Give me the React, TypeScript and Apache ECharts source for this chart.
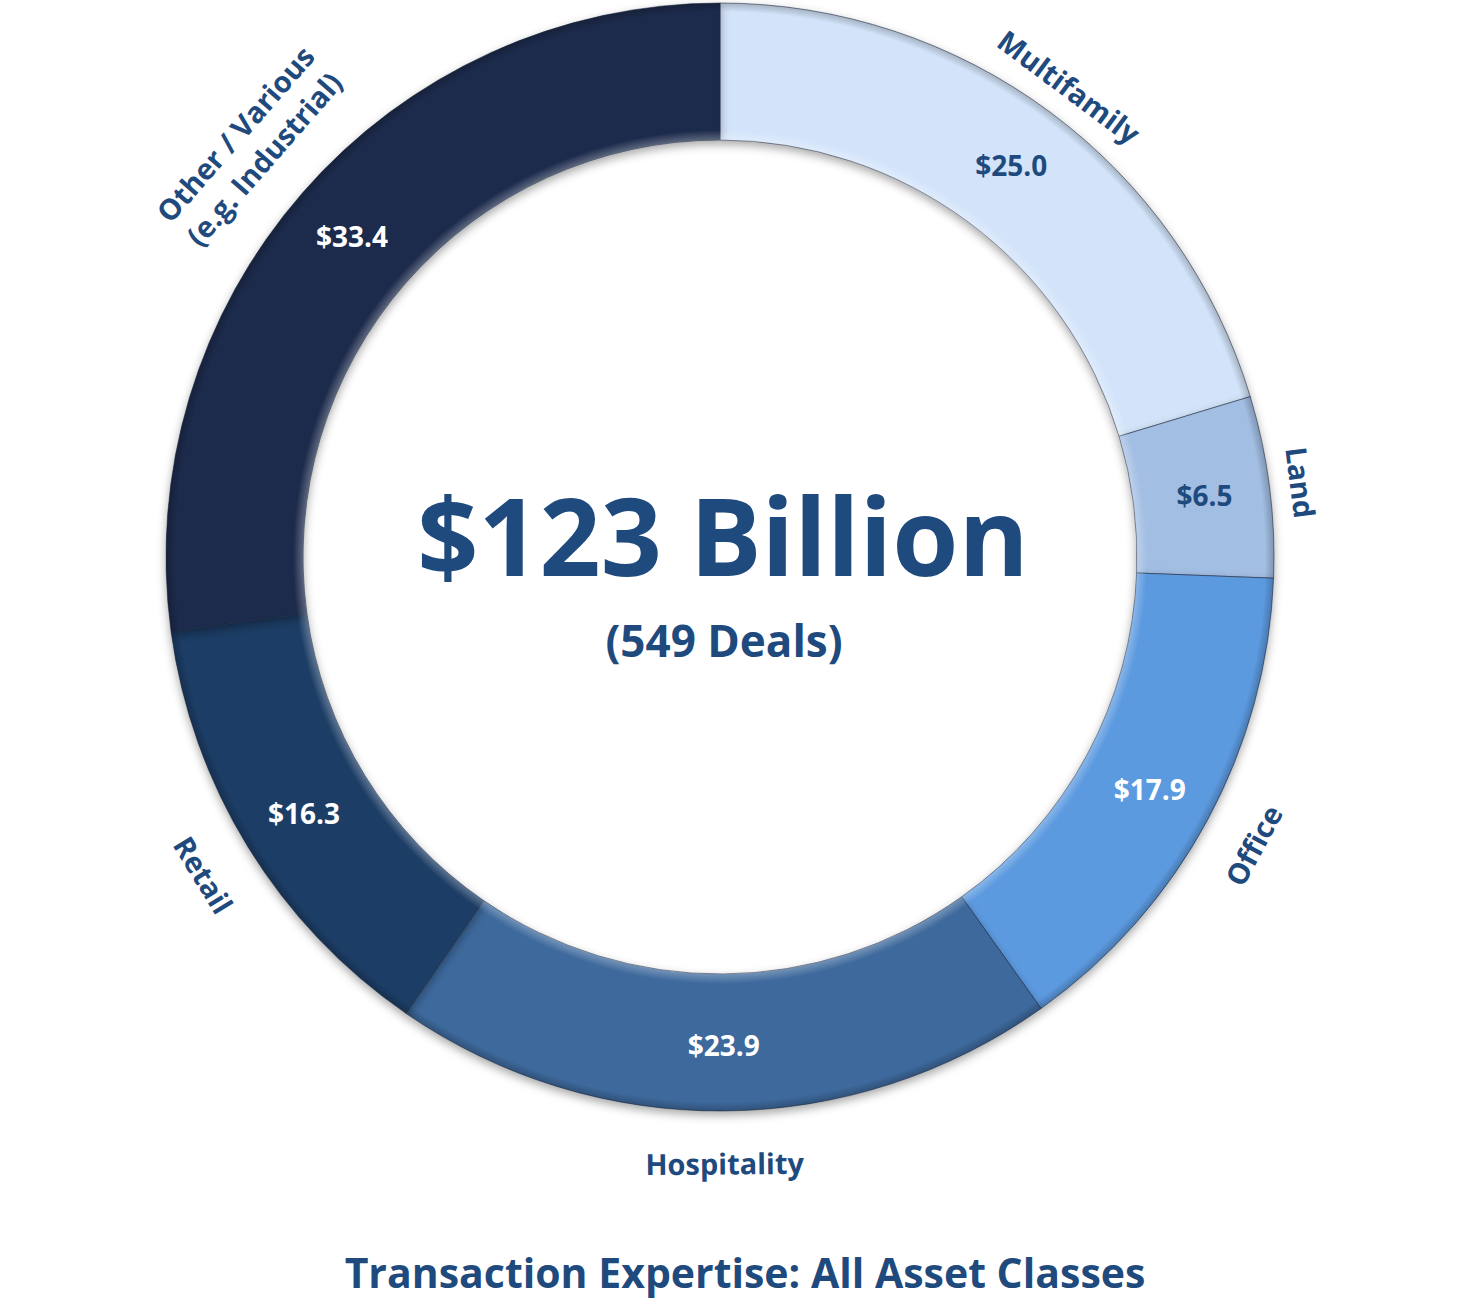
import React, { useEffect, useRef } from "react";
import * as echarts from "echarts";

const categories = [
  "Multifamily",
  "Land",
  "Office",
  "Hospitality",
  "Retail",
  "Other / Various\n(e.g. Industrial)",
];
const values = [25.0, 6.5, 17.9, 23.9, 16.3, 33.4];
const colors = ["#D3E4FA", "#A2BEE3", "#5C9AE0", "#3E699C", "#1F3C65", "#1A2C4B"];
const valueLabelColors = ["#1F4A7D", "#1F4A7D", "#FFFFFF", "#FFFFFF", "#FFFFFF", "#FFFFFF"];
const centerTitle = "$123 Billion";
const centerSubtitle = "(549 Deals)";
const chartTitle = "Transaction Expertise: All Asset Classes";

// which outer label ring each category name sits on
const nameRing = [0, 0, 1, 1, 1, 2];

const TEXT_BLUE = "#1F4A7D";
const FONT = "'Open Sans', 'Noto Sans', sans-serif";

export default function App() {
  const ref = useRef<HTMLDivElement>(null);

  useEffect(() => {
    if (!ref.current) return;
    const chart = echarts.init(ref.current, undefined, { renderer: "svg" });
    const center = [720, 557];
    const R0 = 417;
    const R1 = 554;

    const ringData = categories.map((name, i) => ({
      name,
      value: values[i],
      itemStyle: { color: colors[i] },
      label: { color: valueLabelColors[i] },
    }));

    const nameSeries = (ringIdx: number, radius: number[]) => ({
      type: "pie",
      center,
      radius,
      startAngle: 90,
      clockwise: true,
      silent: true,
      emphasis: { disabled: true },
      itemStyle: { color: "rgba(0,0,0,0)" },
      label: {
        position: "inside",
        rotate: "tangential",
        fontFamily: FONT,
        fontWeight: "bold",
        fontSize: 29,
        lineHeight: 38,
        align: "center",
        color: TEXT_BLUE,
        formatter: (p: any) => p.name,
      },
      labelLine: { show: false },
      data: categories.map((name, i) => ({
        name,
        value: values[i],
        label: { show: nameRing[i] === ringIdx },
      })),
    });

    const bevel = {
      type: "radial",
      x: center[0],
      y: center[1],
      r: R1,
      global: true,
      colorStops: [
        { offset: 0, color: "rgba(255,255,255,0)" },
        { offset: R0 / R1, color: "rgba(255,255,255,0.28)" },
        { offset: (R0 + 10) / R1, color: "rgba(255,255,255,0)" },
        { offset: (R1 - 9) / R1, color: "rgba(0,0,0,0)" },
        { offset: 1, color: "rgba(0,0,0,0.22)" },
      ],
    };

    chart.setOption({
      animation: false,
      backgroundColor: "#FFFFFF",
      series: [
        {
          type: "pie",
          center,
          radius: [R0, R1],
          startAngle: 90,
          clockwise: true,
          silent: true,
          emphasis: { disabled: true },
          itemStyle: {
            borderColor: "rgba(30,40,60,0.55)",
            borderWidth: 1,
            shadowBlur: 10,
            shadowColor: "rgba(0,0,0,0.35)",
            shadowOffsetY: 4,
          },
          label: {
            show: true,
            position: "inside",
            rotate: 0,
            fontFamily: FONT,
            fontWeight: "bold",
            fontSize: 28,
            formatter: (p: any) => "$" + Number(p.value).toFixed(1),
          },
          labelLine: { show: false },
          data: ringData,
        },
        {
          type: "pie",
          center,
          radius: [R0, R1],
          startAngle: 90,
          clockwise: true,
          silent: true,
          emphasis: { disabled: true },
          itemStyle: { color: bevel as any, borderWidth: 0 },
          label: { show: false },
          labelLine: { show: false },
          data: categories.map((name, i) => ({ name, value: values[i] })),
        },
        nameSeries(0, [570, 596]),
        nameSeries(1, [592, 614]),
        nameSeries(2, [610, 634]),
      ],
      graphic: [
        {
          type: "text",
          x: 723,
          y: 534,
          style: {
            text: centerTitle,
            fill: TEXT_BLUE,
            font: `bold 107px ${FONT}`,
            textAlign: "center",
            textVerticalAlign: "middle",
          },
        },
        {
          type: "text",
          x: 724,
          y: 640,
          style: {
            text: centerSubtitle,
            fill: TEXT_BLUE,
            font: `bold 44px ${FONT}`,
            textAlign: "center",
            textVerticalAlign: "middle",
          },
        },
        {
          type: "text",
          x: 745,
          y: 1272,
          style: {
            text: chartTitle,
            fill: TEXT_BLUE,
            font: `bold 41px ${FONT}`,
            textAlign: "center",
            textVerticalAlign: "middle",
          },
        },
      ],
    });

    return () => chart.dispose();
  }, []);

  return (
    <div
      ref={ref}
      style={{ position: "fixed", left: 0, top: 0, width: 1468, height: 1301 }}
    />
  );
}
